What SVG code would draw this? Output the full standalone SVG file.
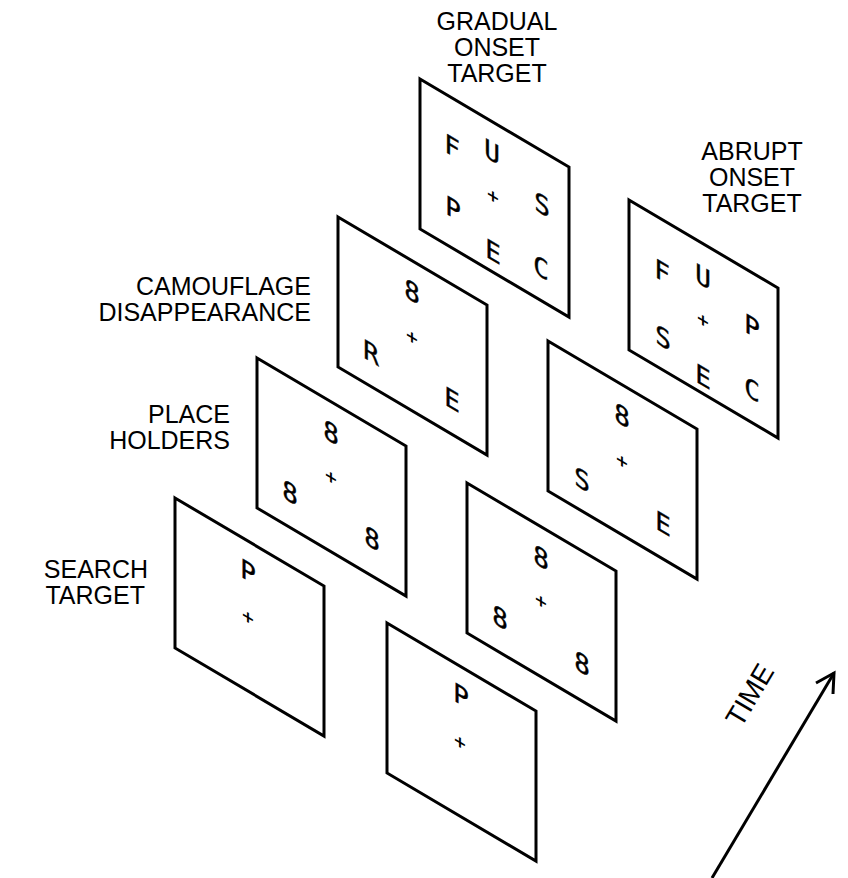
<svg xmlns="http://www.w3.org/2000/svg" width="848" height="878" viewBox="0 0 848 878">
<style>
.lbl{font-family:"Liberation Sans",Arial,sans-serif;font-size:25px;fill:#000}
.pn{fill:#fff;stroke:#000;stroke-width:3;stroke-linejoin:miter}
.g{font-family:"DejaVu Sans Mono","Liberation Mono",monospace;font-size:26px;fill:#000;stroke:#000;stroke-width:0.4;text-anchor:middle;dominant-baseline:central}
.x{font-family:"DejaVu Sans",sans-serif;font-size:16px;font-weight:bold;fill:#000;text-anchor:middle;dominant-baseline:central}
.ax{fill:none;stroke:#000;stroke-width:3}
</style>
<defs>
<path id="pnl" d="M0,0 L149,88 L149,238 L0,150 Z"/>
</defs>
<rect width="848" height="878" fill="#fff"/>

<g id="connectors">
<line class="ax" x1="712" y1="878" x2="834" y2="673"/>
<path class="ax" d="M816,683 L834,673 L833,694"/>
<text class="lbl" transform="translate(758,700) rotate(-59.2)" text-anchor="middle" style="font-size:28px">TIME</text>
</g>

<g id="search-left">
<use href="#pnl" class="pn" x="175" y="498"/>
<text class="g" transform="translate(248,572) skewY(30.57)">P</text>
<text class="x" transform="translate(248,617) skewY(30.57)">+</text>
</g>
<text class="lbl" x="148" y="578" text-anchor="end">SEARCH</text>
<text class="lbl" x="145" y="604" text-anchor="end">TARGET</text>

<g id="placeholders-left">
<use href="#pnl" class="pn" x="257" y="358"/>
<text class="g" transform="translate(331,433) skewY(30.57)">8</text>
<text class="x" transform="translate(331,477) skewY(30.57)">+</text>
<text class="g" transform="translate(290,493) skewY(30.57)">8</text>
<text class="g" transform="translate(372,539) skewY(30.57)">8</text>
</g>
<text class="lbl" x="230" y="423" text-anchor="end">PLACE</text>
<text class="lbl" x="230" y="449" text-anchor="end">HOLDERS</text>

<g id="camouflage-left">
<use href="#pnl" class="pn" x="338" y="217"/>
<text class="g" transform="translate(412,292) skewY(30.57)">8</text>
<text class="x" transform="translate(412,337) skewY(30.57)">+</text>
<text class="g" transform="translate(371,353) skewY(30.57)">R</text>
<text class="g" transform="translate(452,400) skewY(30.57)">E</text>
</g>
<text class="lbl" x="311" y="295" text-anchor="end">CAMOUFLAGE</text>
<text class="lbl" x="311" y="321" text-anchor="end">DISAPPEARANCE</text>

<g id="gradual">
<use href="#pnl" class="pn" x="420" y="79"/>
<text class="g" transform="translate(452,147) skewY(30.57)">F</text>
<text class="g" transform="translate(492,152) skewY(30.57)">U</text>
<text class="x" transform="translate(493,196) skewY(30.57)">+</text>
<text class="g" transform="translate(453,209) skewY(30.57)">P</text>
<text class="g" transform="translate(542,205) skewY(30.57)">S</text>
<text class="g" transform="translate(493,252) skewY(30.57)">E</text>
<text class="g" transform="translate(541,268) skewY(30.57)">C</text>
</g>
<text class="lbl" x="497" y="30" text-anchor="middle">GRADUAL</text>
<text class="lbl" x="497" y="56" text-anchor="middle">ONSET</text>
<text class="lbl" x="497" y="82" text-anchor="middle">TARGET</text>

<g id="search-right">
<use href="#pnl" class="pn" x="387" y="623"/>
<text class="g" transform="translate(461,696) skewY(30.57)">P</text>
<text class="x" transform="translate(460,742) skewY(30.57)">+</text>
</g>

<g id="placeholders-right">
<use href="#pnl" class="pn" x="467" y="483"/>
<text class="g" transform="translate(541,558) skewY(30.57)">8</text>
<text class="x" transform="translate(541,601) skewY(30.57)">+</text>
<text class="g" transform="translate(500,618) skewY(30.57)">8</text>
<text class="g" transform="translate(582,664) skewY(30.57)">8</text>
</g>

<g id="camouflage-right">
<use href="#pnl" class="pn" x="548" y="341"/>
<text class="g" transform="translate(622,416) skewY(30.57)">8</text>
<text class="x" transform="translate(622,461) skewY(30.57)">+</text>
<text class="g" transform="translate(582,480) skewY(30.57)">S</text>
<text class="g" transform="translate(663,524) skewY(30.57)">E</text>
</g>

<g id="abrupt">
<use href="#pnl" class="pn" x="629" y="200"/>
<text class="g" transform="translate(662,272) skewY(30.57)">F</text>
<text class="g" transform="translate(703,277) skewY(30.57)">U</text>
<text class="x" transform="translate(703,320) skewY(30.57)">+</text>
<text class="g" transform="translate(663,338) skewY(30.57)">S</text>
<text class="g" transform="translate(752,327) skewY(30.57)">P</text>
<text class="g" transform="translate(703,377) skewY(30.57)">E</text>
<text class="g" transform="translate(752,390) skewY(30.57)">C</text>
</g>
<text class="lbl" x="752" y="160" text-anchor="middle">ABRUPT</text>
<text class="lbl" x="752" y="186" text-anchor="middle">ONSET</text>
<text class="lbl" x="752" y="212" text-anchor="middle">TARGET</text>
</svg>
